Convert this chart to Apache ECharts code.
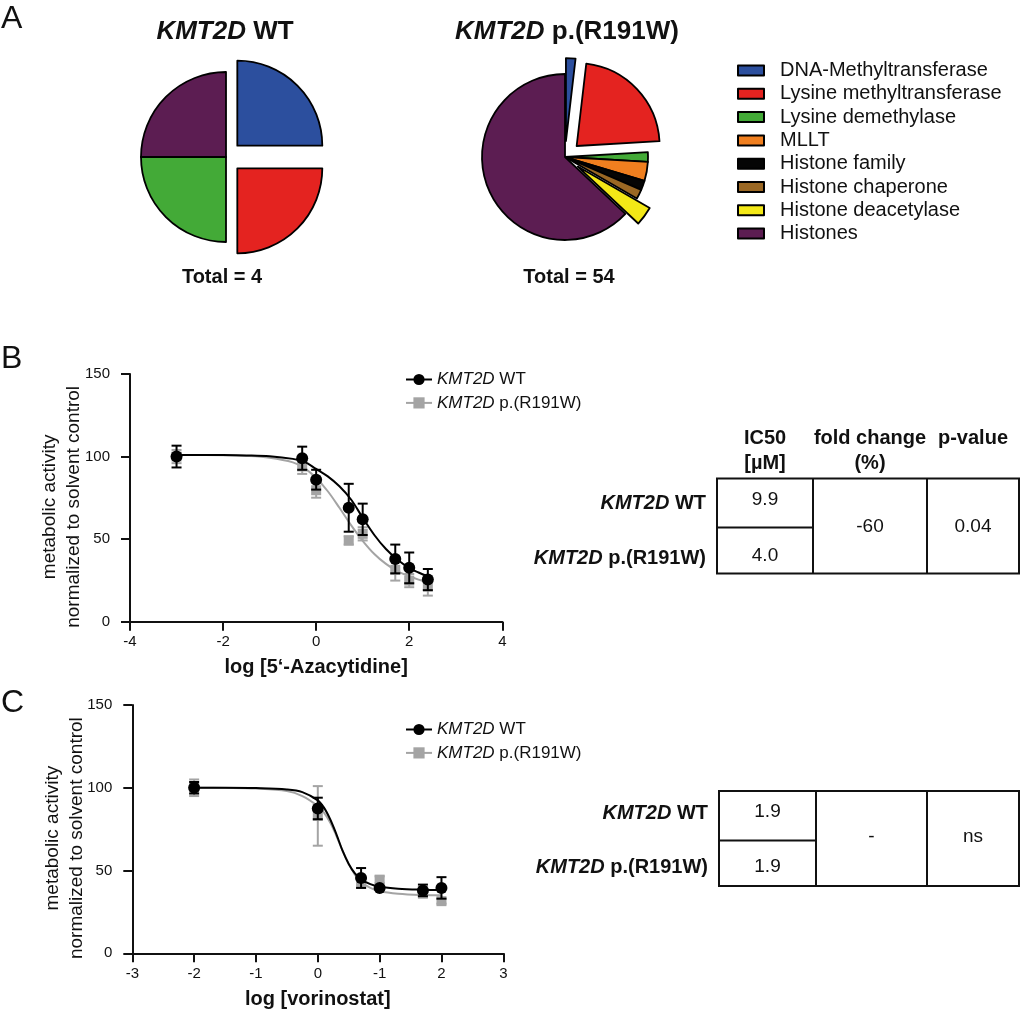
<!DOCTYPE html>
<html><head><meta charset="utf-8">
<script src="https://cdn.jsdelivr.net/npm/echarts@6/dist/echarts.min.js"></script>
<style>html,body{margin:0;padding:0;background:#fff}#chart{width:1024px;height:1014px}</style>
</head><body><div id="chart"></div>
<script>
// ---------- DATA ----------
const pieCategories = ['DNA-Methyltransferase','Lysine methyltransferase','Lysine demethylase','MLLT','Histone family','Histone chaperone','Histone deacetylase','Histones'];
const pieColors = ['#2C4F9E','#E42320','#43AA37','#F07F1F','#050505','#9B6824','#F3E817','#5C1D52'];
const wtCounts = [1,1,1,0,0,0,0,1];
const mutCounts = [1,12,1,2,1,1,2,34];
const wtExploded = [true,true,false,false,false,false,false,false];
const mutExploded = [true,true,false,false,false,false,true,false];
const pieTitleNames = ['WT','p.(R191W)'];
const pieTotals = ['Total = 4','Total = 54'];

const seriesNames = ['KMT2D WT','KMT2D p.(R191W)'];

// Panel B: 5'-Azacytidine
const bDoseLog = [-3,-0.3,0,0.7,1,1.7,2,2.4];
const bWTMean = [100,99,86,69,62,38,32.6,25.5];
const bWTSD   = [6.6,7,6,14.5,9.5,8.7,9.3,6.4];
const bMutMean = [100,94,79.6,49.2,53.2,31.4,24.9,21.3];
const bMutSD   = [4,4.5,4.5,2.5,4,6.5,4,5.5];
const bWTFit = [[-3,101],[-2,100.9],[-1.5,100.7],[-1,100.2],[-0.5,98.6],[-0.25,96.8],[0,92.5],[0.25,88],[0.5,82],[0.75,74],[1,63],[1.25,52.5],[1.5,44],[1.75,37.5],[2,32.5],[2.2,29.8],[2.4,27.5]];
const bMutFit = [[-3,101],[-2,100.8],[-1.5,100.4],[-1,99.3],[-0.5,96.5],[-0.25,93],[0,87],[0.25,79],[0.5,69],[0.75,58.5],[1,49],[1.25,41],[1.5,35],[1.75,30.5],[2,27.5],[2.2,25.5],[2.4,24]];
const bXTicks = ['-4','-2','0','2','4'];
const bXName = 'log [5‘-Azacytidine]';

// Panel C: vorinostat
const cDoseLog = [-2,0,0.7,1,1.7,2];
const cWTMean = [100,87.5,45.5,39.5,38,39.5];
const cWTSD   = [3.5,6.5,6,1,3.5,6.5];
const cMutMean = [100,83,42.5,44.5,36,31.5];
const cMutSD   = [5,18,3,2,2,1.5];
const cWTFit = [[-2,100],[-1.5,100],[-1,99.8],[-0.5,99],[-0.25,97.4],[0,92.4],[0.1,88],[0.2,81],[0.3,72],[0.4,62],[0.5,54],[0.6,48.3],[0.7,44.7],[0.85,41.8],[1,40.2],[1.3,39],[1.7,38.4],[2,38.2]];
const cMutFit = [[-2,100],[-1.5,99.9],[-1,99.5],[-0.5,98],[-0.25,95],[0,89],[0.1,85],[0.2,79],[0.3,71],[0.4,62],[0.5,54],[0.6,47.5],[0.7,43],[0.85,39.5],[1,37.5],[1.3,36],[1.7,35.2],[2,35]];
const cXTicks = ['-3','-2','-1','0','-1','2','3'];
const cXName = 'log [vorinostat]';

const yName = 'metabolic activity\nnormalized to solvent control';

// Tables
const tableHeader = [['IC50','[µM]'],['fold change','(%)'],['p-value']];
const bIC50 = ['9.9','4.0'];
const bFold = '-60';
const bPval = '0.04';
const cIC50 = ['1.9','1.9'];
const cFold = '-';
const cPval = 'ns';

// ---------- BUILD ----------
const FONT = 'Liberation Sans';
const INK = '#111';
const GRAY = '#A4A4A4';
const richKMT = (size) => ({ i: { fontStyle: 'italic', fontWeight: 'bold', fontSize: size, fontFamily: FONT, fill: INK, color: INK } });
const richName = n => n.replace('KMT2D', '{i|KMT2D}');

function zip(xs, ys) { return xs.map((x, i) => [x, ys[i]]); }
function errData(xs, m, s) { return xs.map((x, i) => [x, m[i] - s[i], m[i] + s[i]]); }
function errRender(color) {
  return function (params, api) {
    const x = api.value(0), lo = api.value(1), hi = api.value(2);
    const pL = api.coord([x, lo]), pH = api.coord([x, hi]);
    const w = 5;
    const st = { stroke: color, lineWidth: 2 };
    return { type: 'group', children: [
      { type: 'line', shape: { x1: pL[0], y1: pL[1], x2: pH[0], y2: pH[1] }, style: st },
      { type: 'line', shape: { x1: pH[0] - w, y1: pH[1], x2: pH[0] + w, y2: pH[1] }, style: st },
      { type: 'line', shape: { x1: pL[0] - w, y1: pL[1], x2: pL[0] + w, y2: pL[1] }, style: st }
    ]};
  };
}

function plotSeries(ai, dose, wtM, wtS, muM, muS, wtFit, muFit) {
  return [
    { type: 'custom', name: 'mutSD' + ai, xAxisIndex: ai, yAxisIndex: ai, renderItem: errRender(GRAY), data: errData(dose, muM, muS), encode: { x: 0, y: [1, 2] }, z: 2, silent: true },
    { type: 'line', name: seriesNames[1], xAxisIndex: ai, yAxisIndex: ai, data: zip(dose, muM), symbol: 'rect', symbolSize: 10, itemStyle: { color: GRAY }, lineStyle: { color: GRAY, width: 2, opacity: 0 }, z: 3, silent: true },
    { type: 'line', name: 'mutFit' + ai, xAxisIndex: ai, yAxisIndex: ai, data: muFit, symbol: 'none', showSymbol: false, smooth: 0.35, lineStyle: { color: GRAY, width: 2 }, z: 3, silent: true },
    { type: 'line', name: 'wtFit' + ai, xAxisIndex: ai, yAxisIndex: ai, data: wtFit, symbol: 'none', showSymbol: false, smooth: 0.35, lineStyle: { color: '#000', width: 2 }, z: 4, silent: true },
    { type: 'custom', name: 'wtSD' + ai, xAxisIndex: ai, yAxisIndex: ai, renderItem: errRender('#000'), data: errData(dose, wtM, wtS), encode: { x: 0, y: [1, 2] }, z: 5, silent: true },
    { type: 'line', name: seriesNames[0], xAxisIndex: ai, yAxisIndex: ai, data: zip(dose, wtM), symbol: 'circle', symbolSize: 12, itemStyle: { color: '#000' }, lineStyle: { color: '#000', width: 2, opacity: 0 }, z: 6, silent: true }
  ];
}

function pieData(counts, exploded) {
  return pieCategories.map((n, i) => ({ name: n, value: counts[i], selected: exploded[i], itemStyle: { color: pieColors[i] } }))
    .filter(d => d.value > 0);
}
function pieSeries(name, center, r, counts, exploded) {
  return { type: 'pie', name, center, radius: r, startAngle: 90, clockwise: true,
    selectedMode: 'multiple', selectedOffset: 16, silent: true,
    label: { show: false }, labelLine: { show: false }, emphasis: { disabled: true },
    itemStyle: { borderColor: '#000', borderWidth: 1.8 },
    data: pieData(counts, exploded) };
}

const axisCommon = {
  axisLine: { show: true, onZero: false, lineStyle: { color: INK, width: 2 } },
  axisTick: { show: true, inside: false, length: 9, lineStyle: { color: INK, width: 2 } },
  splitLine: { show: false },
  nameMoveOverlap: false
};
function xAxisDef(gi, min, max, interval, ticks, name) {
  return Object.assign({}, axisCommon, {
    type: 'value', gridIndex: gi, min, max, interval,
    axisLabel: { color: INK, fontSize: 15, fontFamily: FONT, margin: 13, formatter: (v, idx) => ticks[idx] },
    name, nameLocation: 'middle', nameGap: 36,
    nameTextStyle: { color: INK, fontSize: 20, fontWeight: 'bold', fontFamily: FONT }
  });
}
function yAxisDef(gi) {
  return Object.assign({}, axisCommon, {
    type: 'value', gridIndex: gi, min: 0, max: 150, interval: 50,
    axisLabel: { color: INK, fontSize: 15, fontFamily: FONT, margin: 20 },
    name: yName, nameLocation: 'middle', nameGap: 44, nameRotate: 90,
    nameTextStyle: { color: INK, fontSize: 19, fontFamily: FONT, lineHeight: 24, padding: [0, 18, 0, 0] }
  });
}

function plotLegend(top) {
  return {
    orient: 'vertical', left: 405, top, padding: 0, itemGap: 6.4, itemWidth: 26, itemHeight: 14,
    selectedMode: false,
    data: [
      { name: seriesNames[0], lineStyle: { opacity: 1, width: 2, color: '#000' } },
      { name: seriesNames[1], lineStyle: { opacity: 1, width: 2, color: GRAY } }
    ],
    formatter: richName,
    textStyle: { color: INK, fontSize: 17, fontFamily: FONT, rich: { i: { fontStyle: 'italic', fontSize: 17, fontFamily: FONT, color: INK } } }
  };
}

// graphics
const G = [];
function txt(x, y, text, o) {
  G.push({ type: 'text', x, y, silent: true, style: Object.assign({
    text, fill: INK, fontFamily: FONT, fontSize: 20,
    align: 'center', verticalAlign: 'middle', textAlign: 'center', textVerticalAlign: 'middle'
  }, o || {}) });
}
function ln(x1, y1, x2, y2) { G.push({ type: 'line', silent: true, shape: { x1, y1, x2, y2 }, style: { stroke: INK, lineWidth: 2 } }); }
function box(x, y, w, h) { G.push({ type: 'rect', silent: true, shape: { x, y, width: w, height: h }, style: { fill: 'none', stroke: INK, lineWidth: 2 } }); }

// panel letters
txt(1, 19, 'A', { fontSize: 32, align: 'left', textAlign: 'left' });
txt(1, 359, 'B', { fontSize: 32, align: 'left', textAlign: 'left' });
txt(1, 703, 'C', { fontSize: 32, align: 'left', textAlign: 'left' });
// pie titles
txt(225, 32, '{i|KMT2D} ' + pieTitleNames[0], { fontSize: 26, fontWeight: 'bold', rich: richKMT(26) });
txt(567, 32, '{i|KMT2D} ' + pieTitleNames[1], { fontSize: 26, fontWeight: 'bold', rich: richKMT(26) });
txt(222, 277, pieTotals[0], { fontWeight: 'bold' });
txt(569, 277, pieTotals[1], { fontWeight: 'bold' });

function table(t) {
  box(t.x0, t.y0, t.x1 - t.x0, t.y1 - t.y0);
  ln(t.xd1, t.y0, t.xd1, t.y1);
  ln(t.xd2, t.y0, t.xd2, t.y1);
  ln(t.x0, t.ym, t.xd1, t.ym);
  const c1 = (t.x0 + t.xd1) / 2, c2 = (t.xd1 + t.xd2) / 2, c3 = (t.xd2 + t.x1) / 2;
  if (t.header) {
    const cs = [c1, c2, c3];
    tableHeader.forEach((lines, i) => lines.forEach((l, j) => txt(cs[i], t.hy + j * 25, l, { fontWeight: 'bold' })));
  }
  seriesNames.forEach((n, i) => txt(t.lx, t.ry[i], richName(n), { fontWeight: 'bold', align: 'right', textAlign: 'right', rich: richKMT(20) }));
  t.ic50.forEach((v, i) => txt(c1, t.vy[i], v, { fontSize: 19 }));
  txt(c2, t.mid, t.fold, { fontSize: 19 });
  txt(c3, t.mid, t.p, { fontSize: 19 });
}
table({ x0: 717, x1: 1019, y0: 478.5, y1: 573.5, xd1: 813, xd2: 927, ym: 527.5, header: true, hy: 438,
  lx: 706, ry: [503, 558], vy: [500, 556], mid: 527, ic50: bIC50, fold: bFold, p: bPval });
table({ x0: 719, x1: 1019, y0: 791, y1: 886, xd1: 816, xd2: 927, ym: 840.5, header: false,
  lx: 708, ry: [813, 867], vy: [812, 867], mid: 837, ic50: cIC50, fold: cFold, p: cPval });

const option = {
  animation: false,
  backgroundColor: '#fff',
  textStyle: { fontFamily: FONT },
  grid: [
    { left: 130, top: 374, width: 372.3, height: 247.7, outerBoundsMode: 'none', containLabel: false },
    { left: 132.3, top: 705, width: 371, height: 248.3, outerBoundsMode: 'none', containLabel: false }
  ],
  xAxis: [ xAxisDef(0, -4, 4, 2, bXTicks, bXName), xAxisDef(1, -3, 3, 1, cXTicks, cXName) ],
  yAxis: [ yAxisDef(0), yAxisDef(1) ],
  legend: [
    { orient: 'vertical', left: 737, top: 60.5, padding: 0, itemGap: 3.3, itemWidth: 26, itemHeight: 10,
      icon: 'rect', selectedMode: false, data: pieCategories,
      textStyle: { color: INK, fontSize: 20, fontFamily: FONT, padding: [0, 0, 0, 11] } },
    plotLegend(371),
    plotLegend(721)
  ],
  series: [
    pieSeries('WT', [226, 157], 85, wtCounts, wtExploded),
    pieSeries('R191W', [565, 157], 83, mutCounts, mutExploded),
    ...plotSeries(0, bDoseLog, bWTMean, bWTSD, bMutMean, bMutSD, bWTFit, bMutFit),
    ...plotSeries(1, cDoseLog, cWTMean, cWTSD, cMutMean, cMutSD, cWTFit, cMutFit)
  ],
  graphic: G
};
const chart = echarts.init(document.getElementById('chart'), null, { renderer: 'canvas' });
chart.setOption(option);
</script></body></html>
